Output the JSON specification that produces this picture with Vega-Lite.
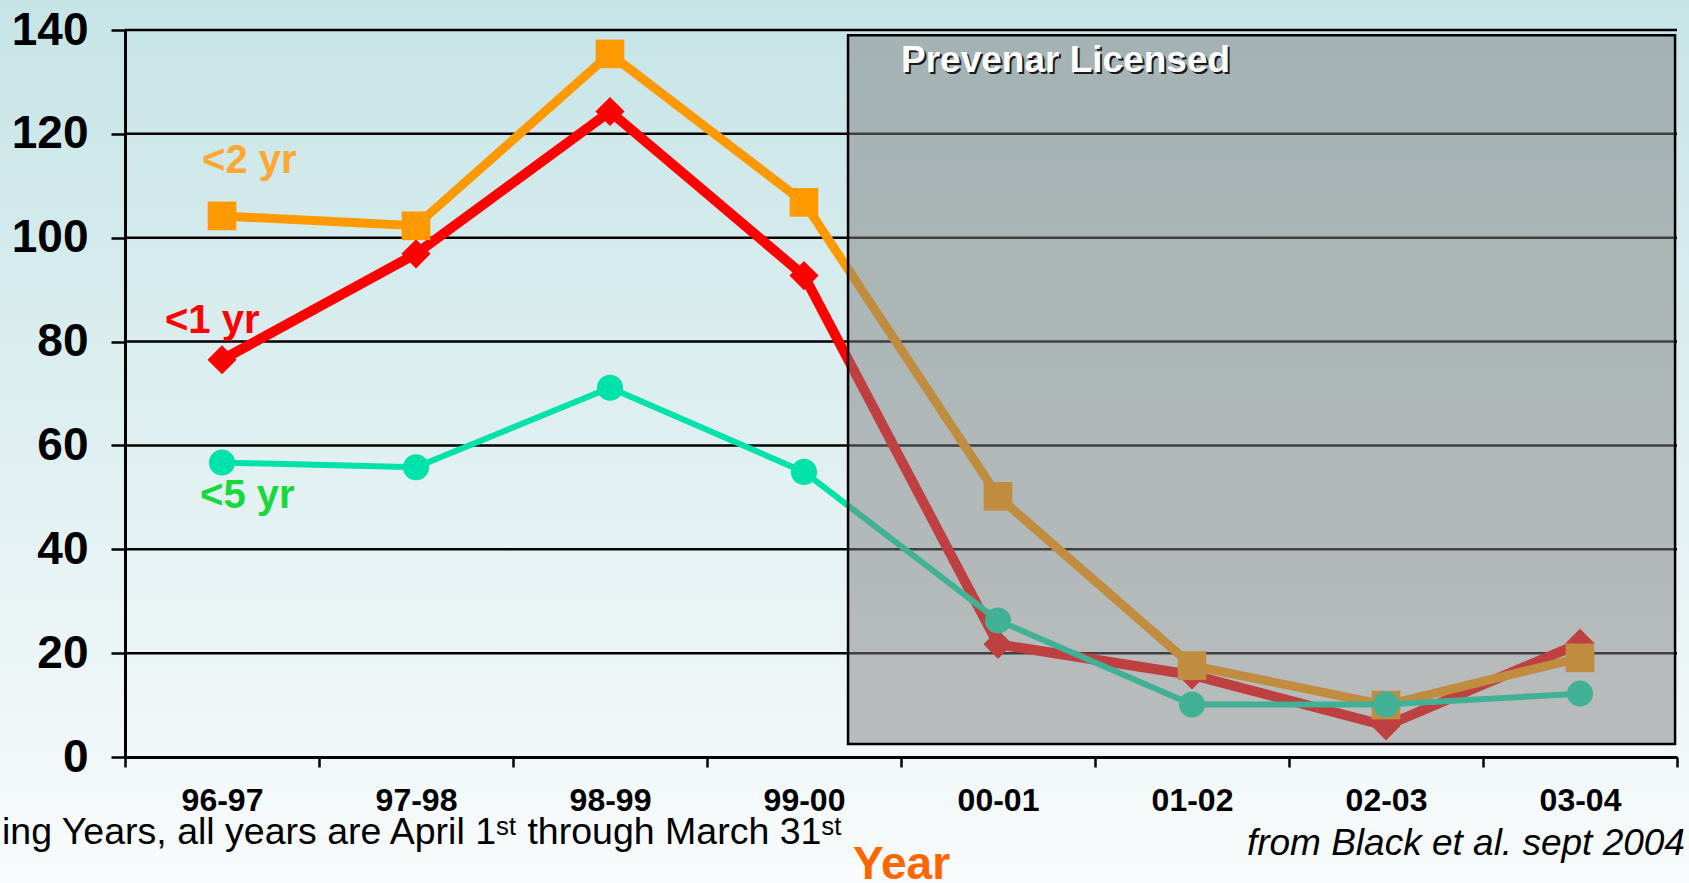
{
  "$schema": "https://vega.github.io/schema/vega-lite/v6.json",
  "width": 1552,
  "height": 727,
  "autosize": "none",
  "padding": {"left": 125, "top": 30, "right": 12, "bottom": 126},
  "background": "#f8fbfc",
  "config": {"view": {"stroke": null}, "font": "Liberation Sans"},
  "datasets": {
    "series": [
      {"year": "96-97", "group": "<1 yr", "value": 76.5},
      {"year": "97-98", "group": "<1 yr", "value": 96.9},
      {"year": "98-99", "group": "<1 yr", "value": 124.3},
      {"year": "99-00", "group": "<1 yr", "value": 92.7},
      {"year": "00-01", "group": "<1 yr", "value": 21.7},
      {"year": "01-02", "group": "<1 yr", "value": 15.8},
      {"year": "02-03", "group": "<1 yr", "value": 6.0},
      {"year": "03-04", "group": "<1 yr", "value": 21.9},
      {"year": "96-97", "group": "<2 yr", "value": 104.2},
      {"year": "97-98", "group": "<2 yr", "value": 102.3},
      {"year": "98-99", "group": "<2 yr", "value": 135.4},
      {"year": "99-00", "group": "<2 yr", "value": 106.8},
      {"year": "00-01", "group": "<2 yr", "value": 50.2},
      {"year": "01-02", "group": "<2 yr", "value": 17.6},
      {"year": "02-03", "group": "<2 yr", "value": 10.0},
      {"year": "03-04", "group": "<2 yr", "value": 19.1},
      {"year": "96-97", "group": "<5 yr", "value": 56.7},
      {"year": "97-98", "group": "<5 yr", "value": 55.8},
      {"year": "98-99", "group": "<5 yr", "value": 71.1},
      {"year": "99-00", "group": "<5 yr", "value": 54.9},
      {"year": "00-01", "group": "<5 yr", "value": 26.3},
      {"year": "01-02", "group": "<5 yr", "value": 10.1},
      {"year": "02-03", "group": "<5 yr", "value": 10.1},
      {"year": "03-04", "group": "<5 yr", "value": 12.2}
    ],
    "grid": [{"g": 20}, {"g": 40}, {"g": 60}, {"g": 80}, {"g": 100}, {"g": 120}, {"g": 140}],
    "one": [{"note": "annotation"}]
  },
  "resolve": {"scale": {"x": "independent"}, "axis": {"x": "independent"}},
  "layer": [
    {
      "data": {"name": "one"},
      "mark": {"type": "rect", "fill": {"gradient": "linear", "x1": 0, "y1": 0, "x2": 0, "y2": 1, "stops": [{"offset": 0, "color": "#c6e4e6"}, {"offset": 1, "color": "#f9fbfc"}]}},
      "encoding": {
        "x": {"datum": -0.7, "type": "quantitative", "scale": {"domain": [0, 8], "nice": false, "zero": false}, "axis": null},
        "x2": {"datum": 8.1},
        "y": {
          "datum": 146, "type": "quantitative", "scale": {"domain": [0, 140], "nice": false, "zero": false},
          "axis": {
            "orient": "left", "title": null, "values": [0, 20, 40, 60, 80, 100, 120, 140],
            "labelFont": "Liberation Sans", "labelFontSize": 46, "labelFontWeight": "bold", "labelColor": "#000000",
            "labelPadding": 23, "tickSize": 14, "tickWidth": 2.5, "tickColor": "#000000",
            "domainColor": "#000000", "domainWidth": 3, "grid": false, "zindex": 1
          }
        },
        "y2": {"datum": -25}
      }
    },
    {
      "data": {"name": "grid"},
      "mark": {"type": "rule", "color": "#000000", "strokeWidth": 2.5},
      "encoding": {
        "y": {"field": "g", "type": "quantitative", "scale": {"domain": [0, 140], "nice": false, "zero": false}}
      }
    },
    {
      "data": {"name": "series"},
      "transform": [{"filter": "datum.group === '<1 yr'"}],
      "mark": {"type": "line", "color": "#ff0000", "strokeWidth": 10, "point": {"shape": "diamond", "size": 850, "filled": true, "color": "#ff0000", "opacity": 1}},
      "encoding": {
        "x": {
          "field": "year", "type": "nominal", "sort": null, "bandPosition": 0.5,
          "scale": {"type": "band", "paddingInner": 0, "paddingOuter": 0, "domain": ["96-97", "97-98", "98-99", "99-00", "00-01", "01-02", "02-03", "03-04"]},
          "axis": {
            "title": "Year", "titleFont": "Liberation Sans", "titleFontSize": 46, "titleFontWeight": "bold", "titleColor": "#ff6600",
            "titleBaseline": "alphabetic", "titleY": 121,
            "labelFont": "Liberation Sans", "labelFontSize": 32, "labelFontWeight": "bold", "labelColor": "#000000",
            "labelAngle": 0, "labelBaseline": "alphabetic", "labelPadding": 43,
            "tickBand": "extent", "tickSize": 10, "tickWidth": 2.5, "tickColor": "#000000",
            "domainColor": "#000000", "domainWidth": 3, "grid": false, "zindex": 1
          }
        },
        "y": {"field": "value", "type": "quantitative", "scale": {"domain": [0, 140], "nice": false, "zero": false}}
      }
    },
    {
      "data": {"name": "series"},
      "transform": [{"filter": "datum.group === '<2 yr'"}],
      "mark": {"type": "line", "color": "#ff9900", "strokeWidth": 9, "point": {"shape": "square", "size": 820, "filled": true, "color": "#ff9900", "opacity": 1}},
      "encoding": {
        "x": {"field": "year", "type": "nominal", "sort": null, "bandPosition": 0.5, "scale": {"type": "band", "paddingInner": 0, "paddingOuter": 0, "domain": ["96-97", "97-98", "98-99", "99-00", "00-01", "01-02", "02-03", "03-04"]}, "axis": null},
        "y": {"field": "value", "type": "quantitative", "scale": {"domain": [0, 140], "nice": false, "zero": false}}
      }
    },
    {
      "data": {"name": "series"},
      "transform": [{"filter": "datum.group === '<5 yr'"}],
      "mark": {"type": "line", "color": "#00e2aa", "strokeWidth": 6, "point": {"shape": "circle", "size": 680, "filled": true, "color": "#00e2aa", "opacity": 1}},
      "encoding": {
        "x": {"field": "year", "type": "nominal", "sort": null, "bandPosition": 0.5, "scale": {"type": "band", "paddingInner": 0, "paddingOuter": 0, "domain": ["96-97", "97-98", "98-99", "99-00", "00-01", "01-02", "02-03", "03-04"]}, "axis": null},
        "y": {"field": "value", "type": "quantitative", "scale": {"domain": [0, 140], "nice": false, "zero": false}}
      }
    },
    {
      "data": {"name": "one"},
      "mark": {"type": "rect", "fill": "#808080", "fillOpacity": 0.5, "stroke": "#000000", "strokeWidth": 2.5},
      "encoding": {
        "x": {"datum": 3.727, "type": "quantitative", "scale": {"domain": [0, 8], "nice": false, "zero": false}, "axis": null},
        "x2": {"datum": 7.99},
        "y": {"datum": 139, "type": "quantitative", "scale": {"domain": [0, 140], "nice": false, "zero": false}},
        "y2": {"datum": 2.5}
      }
    },
    {
      "data": {"name": "one"},
      "mark": {"type": "text", "text": "Prevenar Licensed", "font": "Liberation Sans", "fontSize": 37, "fontWeight": "bold", "color": "#1a1a1a", "align": "left", "baseline": "alphabetic", "dx": 2, "dy": 2},
      "encoding": {
        "x": {"datum": 4.0, "type": "quantitative", "scale": {"domain": [0, 8], "nice": false, "zero": false}, "axis": null},
        "y": {"datum": 132, "type": "quantitative", "scale": {"domain": [0, 140], "nice": false, "zero": false}}
      }
    },
    {
      "data": {"name": "one"},
      "mark": {"type": "text", "text": "Prevenar Licensed", "font": "Liberation Sans", "fontSize": 37, "fontWeight": "bold", "color": "#ffffff", "align": "left", "baseline": "alphabetic"},
      "encoding": {
        "x": {"datum": 4.0, "type": "quantitative", "scale": {"domain": [0, 8], "nice": false, "zero": false}, "axis": null},
        "y": {"datum": 132, "type": "quantitative", "scale": {"domain": [0, 140], "nice": false, "zero": false}}
      }
    },
    {
      "data": {"name": "one"},
      "mark": {"type": "text", "text": "<2 yr", "font": "Liberation Sans", "fontSize": 40, "fontWeight": "bold", "color": "#ffa733", "align": "left", "baseline": "alphabetic"},
      "encoding": {
        "x": {"datum": 0.397, "type": "quantitative", "scale": {"domain": [0, 8], "nice": false, "zero": false}, "axis": null},
        "y": {"datum": 112.5, "type": "quantitative", "scale": {"domain": [0, 140], "nice": false, "zero": false}}
      }
    },
    {
      "data": {"name": "one"},
      "mark": {"type": "text", "text": "<1 yr", "font": "Liberation Sans", "fontSize": 40, "fontWeight": "bold", "color": "#ff0000", "align": "left", "baseline": "alphabetic"},
      "encoding": {
        "x": {"datum": 0.206, "type": "quantitative", "scale": {"domain": [0, 8], "nice": false, "zero": false}, "axis": null},
        "y": {"datum": 81.6, "type": "quantitative", "scale": {"domain": [0, 140], "nice": false, "zero": false}}
      }
    },
    {
      "data": {"name": "one"},
      "mark": {"type": "text", "text": "<5 yr", "font": "Liberation Sans", "fontSize": 40, "fontWeight": "bold", "color": "#19d83e", "align": "left", "baseline": "alphabetic"},
      "encoding": {
        "x": {"datum": 0.387, "type": "quantitative", "scale": {"domain": [0, 8], "nice": false, "zero": false}, "axis": null},
        "y": {"datum": 47.9, "type": "quantitative", "scale": {"domain": [0, 140], "nice": false, "zero": false}}
      }
    },
    {
      "data": {"name": "one"},
      "mark": {"type": "text", "text": "ing Years, all years are April 1ˢᵗ through March 31ˢᵗ", "font": "Liberation Sans", "fontSize": 37.5, "color": "#000000", "align": "left", "baseline": "alphabetic"},
      "encoding": {
        "x": {"datum": -0.634, "type": "quantitative", "scale": {"domain": [0, 8], "nice": false, "zero": false}, "axis": null},
        "y": {"datum": -16.75, "type": "quantitative", "scale": {"domain": [0, 140], "nice": false, "zero": false}}
      }
    },
    {
      "data": {"name": "one"},
      "mark": {"type": "text", "text": "from Black et al. sept 2004", "font": "Liberation Sans", "fontSize": 37, "fontStyle": "italic", "color": "#000000", "align": "right", "baseline": "alphabetic"},
      "encoding": {
        "x": {"datum": 8.041, "type": "quantitative", "scale": {"domain": [0, 8], "nice": false, "zero": false}, "axis": null},
        "y": {"datum": -18.9, "type": "quantitative", "scale": {"domain": [0, 140], "nice": false, "zero": false}}
      }
    }
  ]
}
